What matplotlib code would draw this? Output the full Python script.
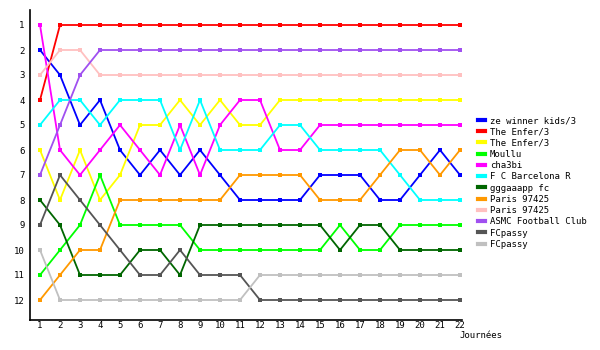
import matplotlib.pyplot as plt
from matplotlib.lines import Line2D

journees = list(range(1, 23))

teams = ["ze winner kids/3", "The Enfer/3", "The Enfer/3", "Moullu", "cha3bi",
         "F C Barcelona R", "gggaaapp fc", "Paris 97425", "Paris 97425",
         "ASMC Football Club", "FCpassy", "FCpassy"]
colors = ["#0000ff", "#ff0000", "#ffff00", "#00ff00", "#ff00ff", "#00ffff",
          "#006600", "#ff9900", "#ffc0c0", "#a050f0", "#555555", "#c0c0c0"]

blue = [2, 3, 5, 4, 6, 7, 6, 7, 6, 7, 8, 8, 8, 8, 7, 7, 7, 8, 8, 7, 6, 7]
red = [4, 1, 1, 1, 1, 1, 1, 1, 1, 1, 1, 1, 1, 1, 1, 1, 1, 1, 1, 1, 1, 1]
yellow = [6, 8, 6, 8, 7, 5, 5, 4, 5, 4, 5, 5, 4, 4, 4, 4, 4, 4, 4, 4, 4, 4]
green = [11, 10, 9, 7, 9, 9, 9, 9, 10, 10, 10, 10, 10, 10, 10, 9, 10, 10, 9, 9, 9, 9]
magenta = [1, 6, 7, 6, 5, 6, 7, 5, 7, 5, 4, 4, 6, 6, 5, 5, 5, 5, 5, 5, 5, 5]
cyan = [5, 4, 4, 5, 4, 4, 4, 6, 4, 6, 6, 6, 5, 5, 6, 6, 6, 6, 7, 8, 8, 8]
darkgreen = [8, 9, 11, 11, 11, 10, 10, 11, 9, 9, 9, 9, 9, 9, 9, 10, 9, 9, 10, 10, 10, 10]
orange = [12, 11, 10, 10, 8, 8, 8, 8, 8, 8, 7, 7, 7, 7, 8, 8, 8, 7, 6, 6, 7, 6]
pink = [3, 2, 2, 3, 3, 3, 3, 3, 3, 3, 3, 3, 3, 3, 3, 3, 3, 3, 3, 3, 3, 3]
purple = [7, 5, 3, 2, 2, 2, 2, 2, 2, 2, 2, 2, 2, 2, 2, 2, 2, 2, 2, 2, 2, 2]
darkgray = [9, 7, 8, 9, 10, 11, 11, 10, 11, 11, 11, 12, 12, 12, 12, 12, 12, 12, 12, 12, 12, 12]
lightgray = [10, 12, 12, 12, 12, 12, 12, 12, 12, 12, 12, 11, 11, 11, 11, 11, 11, 11, 11, 11, 11, 11]

series = [blue, red, yellow, green, magenta, cyan, darkgreen, orange, pink,
          purple, darkgray, lightgray]

plt.rcParams['font.family'] = ['DejaVu Sans Mono']

fig = plt.figure(figsize=(6, 3.5), dpi=100)
ax = fig.add_axes([30 / 600, 30 / 350, 432 / 600, 310 / 350])

for vals, c in zip(series, colors):
    ax.plot(journees, vals, color=c, lw=1.3, marker='s', markersize=2.5,
            markeredgewidth=0)

ax.set_xlim(0.5, 22.1)
ax.set_ylim(12.8, 0.4)
ax.set_xticks(journees)
ax.set_yticks(range(1, 13))
ax.tick_params(length=0, labelsize=6.5, pad=1)
ax.tick_params(axis='y', pad=4)
for s in ['top', 'right']:
    ax.spines[s].set_visible(False)
for s in ['left', 'bottom']:
    ax.spines[s].set_linewidth(1.2)

fig.text(459 / 600, 1 - 336 / 350, "Journées", fontsize=6.5, va='center')

handles = [Line2D([0], [0], color=c, lw=3) for c in colors]
fig.legend(handles, teams, loc='upper left', bbox_to_anchor=(478 / 600, 1 - 116 / 350),
           frameon=False, fontsize=6.5, handlelength=0.8, handletextpad=0.5,
           labelspacing=0.25, borderaxespad=0, borderpad=0)

plt.savefig("out.png")
